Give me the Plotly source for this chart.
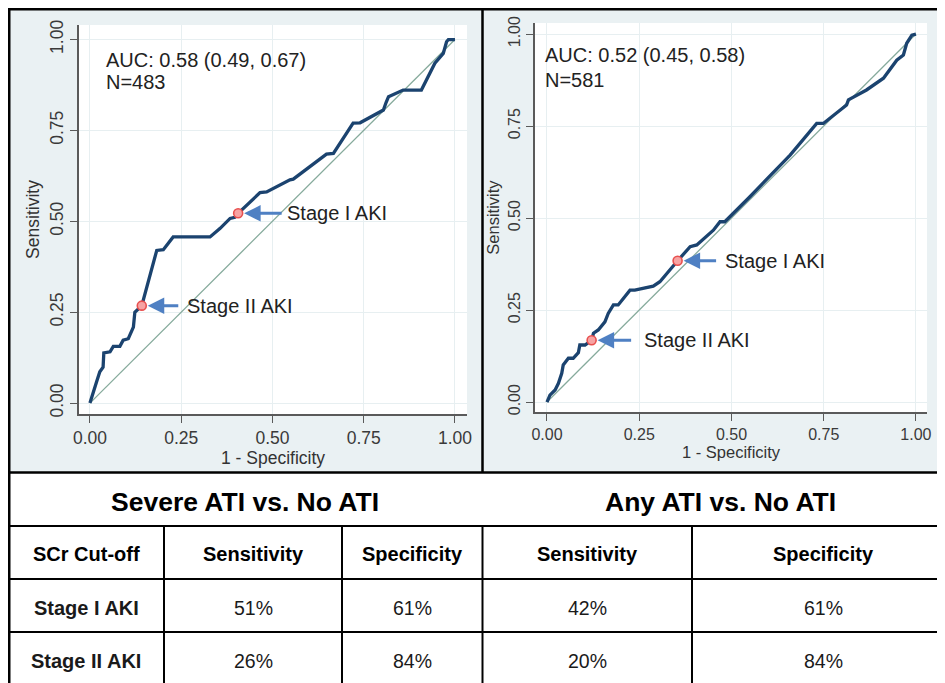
import plotly.graph_objects as go

# page is 945x683; the html body adds an 8px margin, so the figure is 937x675
PAGE_W, PAGE_H = 945, 683
OFF = 8
W, H = PAGE_W - OFF, PAGE_H - OFF

# ---------------- data ----------------
tick_vals = [0, 0.25, 0.5, 0.75, 1.0]
tick_text = ["0.00", "0.25", "0.50", "0.75", "1.00"]

# Severe ATI vs. No ATI ROC curve
severe_fpr = [0.0, 0.009, 0.018, 0.027, 0.036, 0.038, 0.055, 0.064, 0.082, 0.091, 0.105,
              0.119, 0.123, 0.142, 0.151, 0.160, 0.169, 0.183, 0.201, 0.228, 0.329, 0.356,
              0.384, 0.397, 0.406, 0.466, 0.484, 0.548, 0.557, 0.648, 0.667, 0.721, 0.740,
              0.804, 0.811, 0.818, 0.858, 0.908, 0.945, 0.968, 0.977, 0.982, 1.0]
severe_tpr = [0.0, 0.026, 0.058, 0.086, 0.099, 0.138, 0.141, 0.156, 0.156, 0.173, 0.177,
              0.209, 0.250, 0.268, 0.301, 0.338, 0.374, 0.420, 0.422, 0.457, 0.457, 0.480,
              0.508, 0.511, 0.522, 0.579, 0.581, 0.614, 0.616, 0.685, 0.687, 0.770, 0.771,
              0.806, 0.826, 0.843, 0.861, 0.861, 0.935, 0.962, 0.994, 1.0, 1.0]
severe_cut_fpr = [0.142, 0.406]
severe_cut_tpr = [0.268, 0.522]
severe_auc = "AUC: 0.58 (0.49, 0.67)"
severe_n = "N=483"

# Any ATI vs. No ATI ROC curve
any_fpr = [0.0, 0.008, 0.022, 0.031, 0.040, 0.044, 0.058, 0.071, 0.085, 0.089, 0.103,
           0.121, 0.126, 0.139, 0.157, 0.166, 0.180, 0.193, 0.225, 0.238, 0.288, 0.306,
           0.354, 0.388, 0.406, 0.451, 0.469, 0.482, 0.550, 0.659, 0.731, 0.749, 0.812,
           0.817, 0.866, 0.912, 0.948, 0.966, 0.975, 0.989, 1.0]
any_tpr = [0.0, 0.019, 0.033, 0.051, 0.078, 0.101, 0.119, 0.119, 0.134, 0.155, 0.155,
           0.168, 0.187, 0.196, 0.218, 0.241, 0.264, 0.264, 0.304, 0.304, 0.315, 0.327,
           0.384, 0.422, 0.427, 0.467, 0.490, 0.490, 0.558, 0.671, 0.757, 0.757, 0.807,
           0.821, 0.848, 0.880, 0.929, 0.943, 0.975, 0.997, 1.0]
any_cut_fpr = [0.121, 0.354]
any_cut_tpr = [0.168, 0.384]
any_auc = "AUC: 0.52 (0.45, 0.58)"
any_n = "N=581"

cut_labels = ["Stage II AKI", "Stage I AKI"]

# table
table_titles = ["Severe ATI vs. No ATI", "Any ATI vs. No ATI"]
table_header = ["SCr Cut-off", "Sensitivity", "Specificity", "Sensitivity", "Specificity"]
table_rows = ["Stage I AKI", "Stage II AKI"]
severe_sens = ["51%", "26%"]
severe_spec = ["61%", "84%"]
any_sens = ["42%", "20%"]
any_spec = ["61%", "84%"]

# ---------------- styling ----------------
FONT = "Liberation Sans, Arial, Helvetica, sans-serif"
PANEL_BG = "#eaf1f3"
CURVE = "#1b436f"
DIAG = "#86aa9c"
ARROW = "#4f80c3"
AXIS = "#5a5a5a"
TXT = "#222222"


def px(x):
    return (x - OFF) / W


def py(y):
    return 1 - (y - OFF) / H


fig = go.Figure()

# diagonals
for xa, ya in (("x", "y"), ("x2", "y2")):
    fig.add_trace(go.Scatter(x=[0, 1], y=[0, 1], mode="lines", xaxis=xa, yaxis=ya,
                             line=dict(color=DIAG, width=1.3), hoverinfo="skip",
                             showlegend=False))

# ROC curves
fig.add_trace(go.Scatter(x=severe_fpr, y=severe_tpr, mode="lines", xaxis="x", yaxis="y",
                         line=dict(color=CURVE, width=3.3), showlegend=False))
fig.add_trace(go.Scatter(x=any_fpr, y=any_tpr, mode="lines", xaxis="x2", yaxis="y2",
                         line=dict(color=CURVE, width=3.3), showlegend=False))

marker_style = dict(size=9, color="#f6a3a3", line=dict(color="#e8504f", width=1.6))
fig.add_trace(go.Scatter(x=severe_cut_fpr, y=severe_cut_tpr, mode="markers", xaxis="x",
                         yaxis="y", marker=marker_style, text=cut_labels, showlegend=False))
fig.add_trace(go.Scatter(x=any_cut_fpr, y=any_cut_tpr, mode="markers", xaxis="x2",
                         yaxis="y2", marker=marker_style, text=cut_labels, showlegend=False))

shapes = []
# panel backgrounds
shapes.append(dict(type="rect", xref="paper", yref="paper", x0=px(8), x1=px(482),
                   y0=py(472), y1=py(8), fillcolor=PANEL_BG, line=dict(width=0), layer="below"))
shapes.append(dict(type="rect", xref="paper", yref="paper", x0=px(483), x1=px(945),
                   y0=py(472), y1=py(8), fillcolor=PANEL_BG, line=dict(width=0), layer="below"))

# plot regions
L_X = (79, 467)
L_Y = (25, 414)
R_X = (535, 927)
R_Y = (23, 412)
for (xa, xb), (ya, yb) in ((L_X, L_Y), (R_X, R_Y)):
    shapes.append(dict(type="rect", xref="paper", yref="paper", x0=px(xa), x1=px(xb),
                       y0=py(yb), y1=py(ya), fillcolor="white", line=dict(width=0),
                       layer="below"))


def hline(y, x0, x1, w=2):
    shapes.append(dict(type="line", xref="paper", yref="paper", x0=px(x0), x1=px(x1),
                       y0=py(y), y1=py(y), line=dict(color="black", width=w)))


def vline(x, y0, y1, w=2):
    shapes.append(dict(type="line", xref="paper", yref="paper", x0=px(x), x1=px(x),
                       y0=py(y0), y1=py(y1), line=dict(color="black", width=w)))


# frame
hline(9, 8, 950, 3)
vline(9, 8, 690, 3)
vline(482.5, 8, 472, 2.5)
hline(472.5, 8, 950, 2.5)
for yy in (526, 579, 632):
    hline(yy, 8, 950, 2)
for xx in (164, 342, 482.5, 692):
    vline(xx, 526, 690, 2)

annotations = []

# AUC / N text
for xr, yr, auc, n, (x0, y0, y1) in (("x", "y", severe_auc, severe_n, (0.038, 0.945, 0.884)),
                                      ("x2", "y2", any_auc, any_n, (-0.011, 0.943, 0.875))):
    annotations.append(dict(x=x0, y=y0, xref=xr, yref=yr, text=auc, showarrow=False,
                            xanchor="left", yanchor="middle",
                            font=dict(family=FONT, size=20, color=TXT)))
    annotations.append(dict(x=x0, y=y1, xref=xr, yref=yr, text=n, showarrow=False,
                            xanchor="left", yanchor="middle",
                            font=dict(family=FONT, size=20, color=TXT)))

# arrows + labels
arrow_cfg = [("x", "y", severe_cut_fpr, severe_cut_tpr, [(38, 43), (45, 47)]),
             ("x2", "y2", any_cut_fpr, any_cut_tpr, [(41, 50), (40, 45)])]
for xr, yr, fx, fy, offs in arrow_cfg:
    for i, lab in enumerate(cut_labels):
        a_off, t_off = offs[i]
        annotations.append(dict(x=fx[i], y=fy[i], xref=xr, yref=yr, text="",
                                showarrow=True, ax=a_off, ay=0, arrowhead=2,
                                arrowsize=1.1, arrowwidth=3, arrowcolor=ARROW, standoff=6))
        annotations.append(dict(x=fx[i], y=fy[i], xref=xr, yref=yr, text=lab,
                                showarrow=False, xanchor="left", yanchor="middle",
                                xshift=t_off, font=dict(family=FONT, size=20, color=TXT)))

# table text
for txt, cx in zip(table_titles, (245, 720)):
    annotations.append(dict(x=px(cx), y=py(502), xref="paper", yref="paper",
                            xanchor="center", yanchor="middle",
                            text="<b>" + txt + "</b>", showarrow=False,
                            font=dict(family=FONT, size=26.5, color="black")))
col_centers = [86, 253, 412, 587, 823]
for txt, cx in zip(table_header, col_centers):
    annotations.append(dict(x=px(cx), y=py(554), xref="paper", yref="paper",
                            xanchor="center", yanchor="middle",
                            text="<b>" + txt + "</b>", showarrow=False,
                            font=dict(family=FONT, size=20, color="black")))
for r, ry in enumerate((608, 661)):
    vals = [table_rows[r], severe_sens[r], severe_spec[r], any_sens[r], any_spec[r]]
    for c, (txt, cx) in enumerate(zip(vals, col_centers)):
        t = "<b>" + txt + "</b>" if c == 0 else txt
        annotations.append(dict(x=px(cx), y=py(ry), xref="paper", yref="paper",
                                xanchor="center", yanchor="middle",
                                text=t, showarrow=False,
                                font=dict(family=FONT, size=20 if c == 0 else 19.5,
                                          color="#1a1a1a")))


def axis_common(size):
    return dict(tickvals=tick_vals, ticktext=tick_text, showline=True, linecolor=AXIS,
                linewidth=1.5, ticks="outside", ticklen=7, tickcolor=AXIS, tickwidth=1.3,
                showgrid=True, gridcolor="#e7eff1", gridwidth=1, zeroline=False,
                automargin=False, tickfont=dict(family=FONT, size=size, color="#3a3a3a"))


fig.update_layout(
    width=W, height=H, margin=dict(l=0, r=0, t=0, b=0),
    paper_bgcolor="white", plot_bgcolor="rgba(0,0,0,0)",
    showlegend=False,
    xaxis=dict(domain=[px(L_X[0]), px(L_X[1])], range=[-0.030, 1.033],
               title=dict(text="1 - Specificity", standoff=2,
                          font=dict(family=FONT, size=17.5, color="#333")),
               anchor="y", **axis_common(17.5)),
    yaxis=dict(domain=[py(L_Y[1]), py(L_Y[0])], range=[-0.030, 1.040], tickangle=-90,
               title=dict(text="Sensitivity", standoff=3,
                          font=dict(family=FONT, size=17.5, color="#333")),
               anchor="x", **axis_common(17.5)),
    xaxis2=dict(domain=[px(R_X[0]), px(R_X[1])], range=[-0.0325, 1.030],
                title=dict(text="1 - Specificity", standoff=2,
                           font=dict(family=FONT, size=16.5, color="#333")),
                anchor="y2", **axis_common(16)),
    yaxis2=dict(domain=[py(R_Y[1]), py(R_Y[0])], range=[-0.027, 1.030], tickangle=-90,
                title=dict(text="Sensitivity", standoff=2,
                           font=dict(family=FONT, size=16.5, color="#333")),
                anchor="x2", **axis_common(16)),
    shapes=shapes,
    annotations=annotations,
)

fig.write_html("out.html")
